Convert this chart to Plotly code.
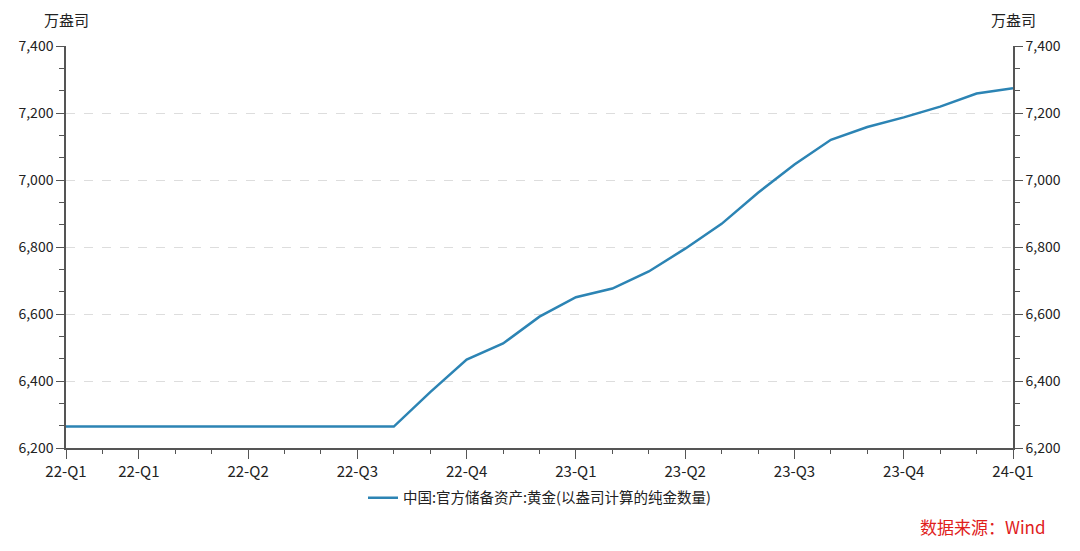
import plotly.graph_objects as go

# monthly, Jan 2022 - Mar 2024 (万盎司)
months = [
    "2022-01", "2022-02", "2022-03", "2022-04", "2022-05", "2022-06",
    "2022-07", "2022-08", "2022-09", "2022-10", "2022-11", "2022-12",
    "2023-01", "2023-02", "2023-03", "2023-04", "2023-05", "2023-06",
    "2023-07", "2023-08", "2023-09", "2023-10", "2023-11", "2023-12",
    "2024-01", "2024-02", "2024-03",
]
gold_reserve = [
    6264, 6264, 6264, 6264, 6264, 6264, 6264, 6264, 6264, 6264, 6367, 6464,
    6512, 6592, 6650, 6676, 6727, 6795, 6869, 6962, 7046, 7120, 7158, 7187,
    7219, 7258, 7274,
]
tick_months = ["2022-01", "2022-03", "2022-06", "2022-09", "2022-12",
               "2023-03", "2023-06", "2023-09", "2023-12", "2024-03"]
tick_labels = ["22-Q1", "22-Q1", "22-Q2", "22-Q3", "22-Q4",
               "23-Q1", "23-Q2", "23-Q3", "23-Q4", "24-Q1"]

x = list(range(len(months)))
tick_pos = [months.index(m) for m in tick_months]

FONT = "Noto Sans CJK SC"
AXIS_COLOR = "#555555"
TEXT_COLOR = "#222222"

fig = go.Figure()
fig.add_trace(go.Scatter(
    x=x, y=gold_reserve, mode="lines",
    name="中国:官方储备资产:黄金(以盎司计算的纯金数量)",
    line=dict(color="#2c84b4", width=2.5),
))
# invisible trace so the right axis is drawn
fig.add_trace(go.Scatter(
    x=x, y=gold_reserve, yaxis="y2", mode="lines",
    line=dict(color="rgba(0,0,0,0)"), showlegend=False, hoverinfo="skip",
))

yaxis_common = dict(
    range=[6200, 7400], dtick=200, tick0=6200, tickformat=",d",
    showline=True, linecolor=AXIS_COLOR, linewidth=1.5,
    ticks="outside", ticklen=8, tickcolor=AXIS_COLOR, tickwidth=1.2,
    tickfont=dict(size=14, color=TEXT_COLOR, family=FONT),
    zeroline=False, automargin=False,
    minor=dict(dtick=200 / 3, tick0=6200, ticks="outside", ticklen=5,
               tickcolor=AXIS_COLOR, tickwidth=1.2, showgrid=False),
)

# page body has a default 8px margin, so the margins below are shifted by it
fig.update_layout(
    width=1080, height=551,
    margin=dict(l=58, r=75, t=38, b=111),
    plot_bgcolor="white", paper_bgcolor="white",
    font=dict(family=FONT, size=14, color=TEXT_COLOR),
    xaxis=dict(
        range=[0, len(months) - 1],
        tickmode="array", tickvals=tick_pos, ticktext=tick_labels,
        showline=True, linecolor=AXIS_COLOR, linewidth=1.5,
        ticks="outside", ticklen=9, tickcolor=AXIS_COLOR, tickwidth=1.2,
        tickfont=dict(size=15, color=TEXT_COLOR, family=FONT),
        showgrid=False, zeroline=False, automargin=False,
        minor=dict(tickmode="array", tickvals=x, ticks="outside", ticklen=4,
                   tickcolor=AXIS_COLOR, tickwidth=1.2, showgrid=False),
    ),
    yaxis=dict(
        **yaxis_common,
        showgrid=True, gridcolor="#dddddd", griddash="dash", gridwidth=1,
    ),
    yaxis2=dict(
        **yaxis_common,
        overlaying="y", side="right", showgrid=False,
    ),
    showlegend=True,
    legend=dict(
        orientation="h", x=0.5, xanchor="center",
        yref="container", y=0.111, yanchor="middle",
        font=dict(size=14.5, color=TEXT_COLOR, family=FONT),
    ),
)

fig.add_annotation(text="万盎司", xref="paper", yref="paper", x=0, y=1.065,
                   xanchor="center", yanchor="middle", showarrow=False,
                   font=dict(size=15, color=TEXT_COLOR, family=FONT))
fig.add_annotation(text="万盎司", xref="paper", yref="paper", x=1, y=1.065,
                   xanchor="center", yanchor="middle", showarrow=False,
                   font=dict(size=15, color=TEXT_COLOR, family=FONT))
fig.add_annotation(text="数据来源：Wind", xref="paper", yref="paper",
                   x=1.037, y=-0.1965, xanchor="right", yanchor="middle",
                   showarrow=False,
                   font=dict(size=17, color="#e0201b", family=FONT))

fig.write_html("out.html")
